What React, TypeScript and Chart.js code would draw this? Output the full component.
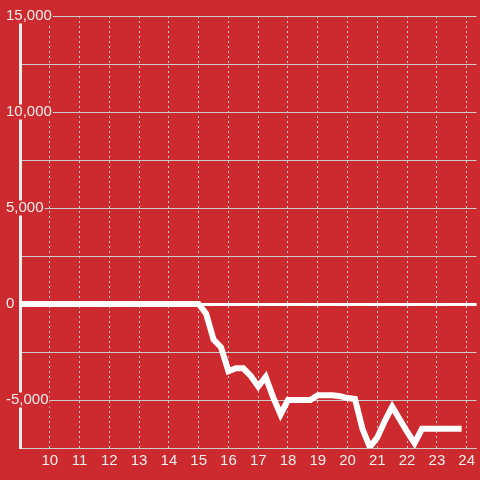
import React, { useEffect, useRef } from "react";
import { Chart, registerables } from "chart.js";

Chart.register(...registerables);

const X_VALUES = [9, 15, 15.25, 15.5, 15.75, 16, 16.25, 16.5, 16.75, 17, 17.25, 17.5, 17.75, 18, 18.25, 18.5, 18.75, 19, 19.25, 19.5, 19.75, 20, 20.25, 20.5, 20.75, 21, 21.25, 21.5, 21.75, 22, 22.25, 22.5, 22.75, 23, 23.25, 23.5, 23.83];
const Y_VALUES = [0, 0, -500, -1850, -2250, -3500, -3350, -3350, -3750, -4300, -3800, -4850, -5750, -5000, -5000, -5000, -5000, -4750, -4750, -4750, -4800, -4900, -4950, -6500, -7450, -6950, -6100, -5350, -6000, -6650, -7250, -6500, -6500, -6500, -6500, -6500, -6500];
const X_TICKS = [10, 11, 12, 13, 14, 15, 16, 17, 18, 19, 20, 21, 22, 23, 24];
const Y_TICKS = [-7500, -5000, -2500, 0, 2500, 5000, 7500, 10000, 12500, 15000];
const Y_LABELED = [-5000, 0, 5000, 10000, 15000];

const RED = "rgb(204,42,47)";
const GRID = "#cccccc";
const LABEL = "#eeeeee";
const FONT = { family: "'Liberation Sans', Arial, sans-serif", size: 15, lineHeight: 1 };

export default function App() {
  const ref = useRef<HTMLCanvasElement | null>(null);
  useEffect(() => {
    if (!ref.current) return;
    const chart = new Chart(ref.current, {
      type: "line",
      data: {
        datasets: [
          {
            data: X_VALUES.map((x, i) => ({ x, y: Y_VALUES[i] })),
            borderColor: "#ffffff",
            borderWidth: 6,
            pointRadius: 0,
            tension: 0,
            fill: false,
          },
        ],
      },
      options: {
        animation: false,
        responsive: false,
        layout: { padding: { top: 16, left: 6, right: 0, bottom: 0 } },
        plugins: { legend: { display: false }, tooltip: { enabled: false } },
        scales: {
          x: {
            type: "linear",
            min: 9,
            max: 24.3333,
            afterBuildTicks: (s: any) => {
              s.ticks = X_TICKS.map((v) => ({ value: v }));
            },
            afterFit: (s: any) => {
              s.height = 32;
            },
            grid: { color: GRID, lineWidth: 1, drawTicks: false },
            border: { display: false, dash: [2, 3] },
            ticks: { color: LABEL, font: FONT, padding: 5, maxRotation: 0, autoSkip: false },
          },
          y: {
            type: "linear",
            min: -7500,
            max: 15000,
            afterBuildTicks: (s: any) => {
              s.ticks = Y_TICKS.map((v) => ({ value: v }));
            },
            afterFit: (s: any) => {
              s.width = 14;
            },
            grid: {
              color: (ctx: any) => (ctx.tick && ctx.tick.value === 0 ? "#ffffff" : GRID),
              lineWidth: (ctx: any) => (ctx.tick && ctx.tick.value === 0 ? 3 : 1),
              drawTicks: false,
            },
            border: { display: true, color: LABEL, width: 3 },
            ticks: {
              color: LABEL,
              font: FONT,
              mirror: true,
              crossAlign: "near",
              padding: -14,
              autoSkip: false,
              showLabelBackdrop: true,
              backdropColor: RED,
              backdropPadding: { top: 0, bottom: 0, left: 2, right: 1 },
              callback: (v: any) => (Y_LABELED.includes(Number(v)) ? Number(v).toLocaleString("en-US") : ""),
            },
          },
        },
      },
    } as any);
    return () => chart.destroy();
  }, []);
  return (
    <div style={{ position: "fixed", left: 0, top: 0, width: 480, height: 480, background: RED }}>
      <canvas ref={ref} width={480} height={480} style={{ display: "block" }} />
    </div>
  );
}
